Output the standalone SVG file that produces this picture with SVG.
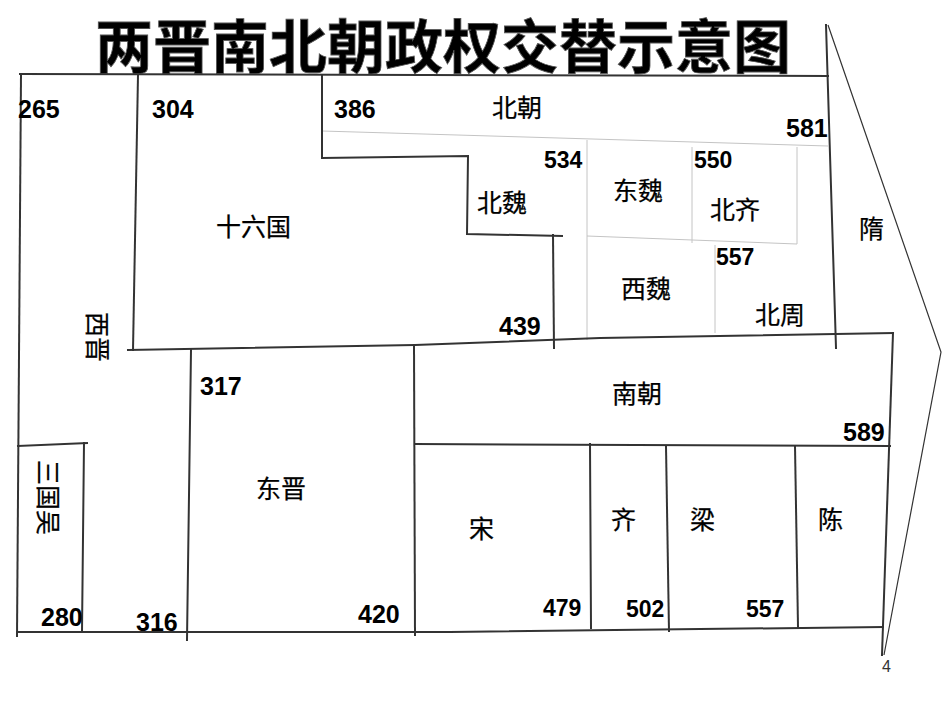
<svg xmlns="http://www.w3.org/2000/svg" width="950" height="713" viewBox="0 0 950 713">
<style>
.ln{fill:none;stroke:#333;stroke-width:2;stroke-linecap:square}
.lt{fill:none;stroke:#c4c4c4;stroke-width:1}
.ar{fill:none;stroke:#333;stroke-width:1.2}
.num{font-family:"Liberation Sans",Arial,sans-serif;font-weight:bold;font-size:25px;fill:#000}
.ns{font-family:"Liberation Sans",Arial,sans-serif;font-weight:bold;font-size:23px;fill:#000}
.cn{font-family:"Noto Sans CJK SC","Noto Sans CJK JP",sans-serif;font-size:25px;fill:#000;stroke:#000;stroke-width:0.25}
.title{font-family:"Noto Sans CJK SC","Noto Sans CJK JP",sans-serif;font-weight:bold;font-size:58px;fill:#000;stroke:#555;stroke-width:0.8}
</style>
<rect width="950" height="713" fill="#fff"/>
<text class="title" x="443" y="68" text-anchor="middle">两晋南北朝政权交替示意图</text>
<g id="connectors">
<path class="lt" d="M322,131 L828,146"/>
<path class="lt" d="M587,140 L587,340"/>
<path class="lt" d="M692,147 L692,243"/>
<path class="lt" d="M797,147 L797,244"/>
<path class="lt" d="M587,236 L797,244"/>
<path class="lt" d="M715,245 L715,333"/>
<path class="ln" d="M20,74 L828,76"/>
<path class="ln" d="M21,75 L17,636"/>
<path class="ln" d="M138,75 L133,350"/>
<path class="ln" d="M128,350 L415,345 L600,338 L893,333"/>
<path class="ln" d="M322,75 L322,158 L468,156 L467,234 L562,236"/>
<path class="ln" d="M553,235 L554,348"/>
<path class="ln" d="M826,25 L836,348"/>
<path class="ln" d="M893,333 L882,655"/>
<path class="ln" d="M191,350 L187,640"/>
<path class="ln" d="M414,345 L415,635"/>
<path class="ln" d="M17,632 L450,632 L883,627"/>
<path class="ln" d="M415,444 L890,446"/>
<path class="ln" d="M590,444 L591,628"/>
<path class="ln" d="M666,446 L669,631"/>
<path class="ln" d="M795,446 L798,627"/>
<path class="ln" d="M18,446 L87,443"/>
<path class="ln" d="M84,443 L82,632"/>
<path class="ar" d="M828,25 L941,352 L884,655"/>
</g>
<g id="xijin"><text class="num" x="18" y="118">265</text><text class="cn" transform="translate(88,312) rotate(90)">西晋</text></g>
<g id="sanguowu"><text class="cn" transform="translate(39,460) rotate(90)">三国吴</text><text class="num" x="41" y="626">280</text></g>
<g id="shiliuguo"><text class="num" x="152" y="118">304</text><text class="cn" x="216" y="236">十六国</text></g>
<g id="beichao"><text class="num" x="334" y="118">386</text><text class="cn" x="492" y="117">北朝</text><text class="num" x="786" y="137">581</text></g>
<g id="beiwei"><text class="cn" x="477" y="212">北魏</text><text class="num" x="499" y="335">439</text></g>
<g id="dongwei"><text class="ns" x="544" y="168">534</text><text class="cn" x="613" y="200">东魏</text></g>
<g id="beiqi"><text class="ns" x="694" y="168">550</text><text class="cn" x="710" y="219">北齐</text></g>
<g id="xiwei"><text class="cn" x="621" y="298">西魏</text></g>
<g id="beizhou"><text class="ns" x="716" y="265">557</text><text class="cn" x="755" y="324">北周</text></g>
<g id="sui"><text class="cn" x="859" y="238">隋</text></g>
<g id="dongjin"><text class="num" x="200" y="395">317</text><text class="cn" x="256" y="498">东晋</text><text class="num" x="136" y="631">316</text><text class="num" x="358" y="623">420</text></g>
<g id="nanchao"><text class="cn" x="612" y="403">南朝</text><text class="num" x="843" y="441">589</text></g>
<g id="song"><text class="cn" x="469" y="538">宋</text><text class="ns" x="543" y="616">479</text></g>
<g id="qi"><text class="cn" x="611" y="529">齐</text><text class="ns" x="626" y="617">502</text></g>
<g id="liang"><text class="cn" x="690" y="529">梁</text><text class="ns" x="746" y="617">557</text></g>
<g id="chen"><text class="cn" x="818" y="529">陈</text></g>
<text x="882" y="672" font-family="Liberation Sans,Arial,sans-serif" font-size="16" fill="#333">4</text>
</svg>
